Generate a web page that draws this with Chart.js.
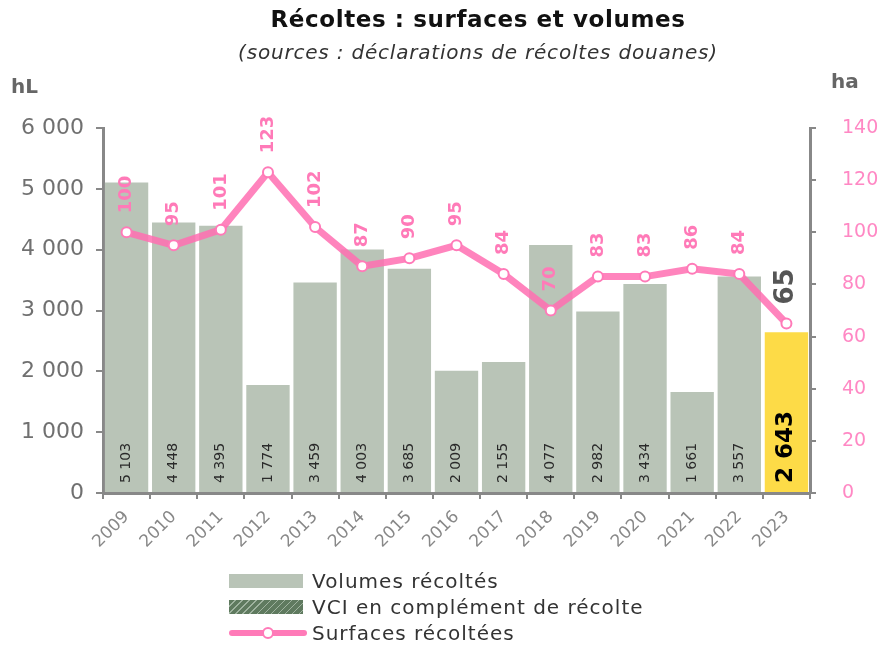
<!DOCTYPE html>
<html>
<head>
<meta charset="utf-8">
<script src="https://cdn.jsdelivr.net/npm/chart.js@4"></script>
<style>
body { margin: 0; background: #fff; font-family: 'DejaVu Sans', sans-serif; }
#wrap { position: relative; width: 878px; height: 645px; }
#chart { position: absolute; left: 0; top: 0; }
.title { position: absolute; left: 178px; width: 600px; text-align: center; color: #111; white-space: nowrap; }
#t1 { top: 6px; font-size: 23px; font-weight: bold; letter-spacing: 0.6px; }
#t2 { top: 40px; font-size: 20px; font-style: italic; color: #333; letter-spacing: 0.8px; }
.unit { position: absolute; font-size: 20px; font-weight: bold; color: #666; }
#legend { position: absolute; left: 229px; top: 568px; font-size: 20px; color: #333; letter-spacing: 1px; }
.row { height: 26px; display: flex; align-items: center; }
.sw { width: 74px; height: 14px; margin-right: 9px; position: relative; }
</style>
</head>
<body>
<div id="wrap">
  <canvas id="chart" width="878" height="645"></canvas>
  <div class="title" id="t1">Récoltes : surfaces et volumes</div>
  <div class="title" id="t2">(sources : déclarations de récoltes douanes)</div>
  <div class="unit" style="left:11px;top:74px">hL</div>
  <div class="unit" style="left:831px;top:69px">ha</div>
  <div id="legend">
    <div class="row"><div class="sw" style="background:#b9c4b7"></div>Volumes récoltés</div>
    <div class="row"><div class="sw" style="background:repeating-linear-gradient(135deg,#5f7a5f 0 4px,#9fb39f 4px 5px)"></div>VCI en complément de récolte</div>
    <div class="row"><div class="sw" style="height:14px">
      <div style="position:absolute;left:0;top:4px;width:78px;height:6px;background:#ff7ab8;border-radius:3px"></div>
      <div style="position:absolute;left:33px;top:1px;width:8px;height:8px;background:#fff;border:2px solid #ff7ab8;border-radius:50%"></div>
    </div>Surfaces récoltées</div>
  </div>
</div>
<script>
// =============================
// Data
// =============================

const years = ['2009', '2010', '2011', '2012', '2013', '2014', '2015', '2016', '2017', '2018', '2019', '2020', '2021', '2022', '2023'];
const volumes = [5103, 4448, 4395, 1774, 3459, 4003, 3685, 2009, 2155, 4077, 2982, 3434, 1661, 3557, 2643];
const surfaces = [100, 95, 101, 123, 102, 87, 90, 95, 84, 70, 83, 83, 86, 84, 65];

const grey = '#b9c4b7';
const yellow = '#fddb47';
const pink = '#ff7ab8';
const FONT = 'DejaVu Sans';

function fmt(v) {
    return String(v).replace(/\B(?=(\d{3})+(?!\d))/g, ' ');
}

// rotated value labels (bars + line)
const rotLabels = {
    id: 'rotLabels',
    afterDatasetsDraw(chart) {
        const ctx = chart.ctx;
        const last = volumes.length - 1;

        chart.getDatasetMeta(0).data.forEach((bar, i) => {
            ctx.save();
            ctx.translate(bar.x, bar.base - 9);
            ctx.rotate(-Math.PI / 2);
            ctx.textAlign = 'left';
            ctx.textBaseline = 'middle';
            ctx.font = i === last ? `bold 23px "${FONT}"` : `14px "${FONT}"`;
            ctx.fillStyle = i === last ? '#000' : '#2a2a2a';
            ctx.fillText(fmt(volumes[i]), 0, 0);
            ctx.restore();
        });

        chart.getDatasetMeta(1).data.forEach((pt, i) => {
            ctx.save();
            ctx.translate(pt.x, pt.y - 19);
            ctx.rotate(-Math.PI / 2);
            ctx.textAlign = 'left';
            ctx.textBaseline = 'middle';
            ctx.font = i === last ? `bold 26px "${FONT}"` : `bold 18px "${FONT}"`;
            ctx.fillStyle = i === last ? '#555' : pink;
            ctx.fillText(String(surfaces[i]), 0, 0);
            ctx.restore();
        });
    }
};

new Chart(document.getElementById('chart'), {
    data: {
        labels: years,
        datasets: [{
            type: 'bar',
            label: 'Volumes récoltés',
            data: volumes,
            backgroundColor: volumes.map((v, i) => i === volumes.length - 1 ? yellow : grey),
            barPercentage: 0.92,
            categoryPercentage: 1,
            yAxisID: 'y',
            order: 2
        }, {
            type: 'line',
            label: 'Surfaces récoltées',
            data: surfaces,
            borderColor: 'rgba(255,110,178,0.85)',
            borderWidth: 7,
            pointRadius: 5,
            pointBorderWidth: 2,
            pointBackgroundColor: '#fff',
            pointBorderColor: pink,
            tension: 0,
            yAxisID: 'y1',
            order: 1
        }]
    },
    options: {
        responsive: false,
        animation: false,
        layout: {
            padding: { top: 128, bottom: 92, left: 0, right: 0 }
        },
        plugins: {
            legend: { display: false },
            tooltip: { enabled: false }
        },
        scales: {
            x: {
                offset: true,
                grid: { offset: true, drawOnChartArea: false, color: '#888', tickLength: 6, lineWidth: 2 },
                border: { color: '#888', width: 3 },
                ticks: {
                    color: '#888',
                    font: { size: 17, family: FONT },
                    minRotation: 45,
                    maxRotation: 45,
                    padding: 8
                },
                afterFit(s) { s.height = 60; }
            },
            y: {
                position: 'left',
                min: 0,
                max: 6000,
                grid: { drawOnChartArea: false, color: '#888', tickLength: 7, lineWidth: 2 },
                border: { color: '#888', width: 3 },
                ticks: {
                    stepSize: 1000,
                    color: '#707070',
                    padding: 12,
                    font: { size: 22, family: FONT },
                    callback: v => fmt(v)
                },
                afterFit(s) { s.width = 103; }
            },
            y1: {
                position: 'right',
                min: 0,
                max: 140,
                grid: { drawOnChartArea: false, color: '#888', tickLength: 6, lineWidth: 2 },
                border: { color: '#888', width: 3 },
                ticks: {
                    stepSize: 20,
                    color: '#ff88c4',
                    padding: 26,
                    font: { size: 19, family: FONT },
                    callback: v => String(v)
                },
                afterFit(s) { s.width = 68; }
            }
        }
    },
    plugins: [rotLabels]
});
</script>
</body>
</html>
